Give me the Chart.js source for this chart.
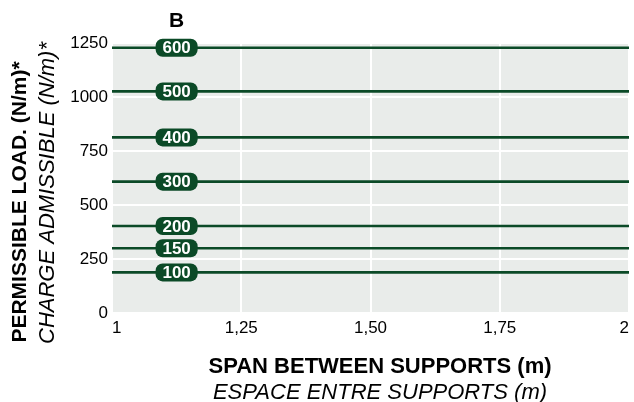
<!DOCTYPE html>
<html>
<head>
<meta charset="utf-8">
<script src="https://cdn.jsdelivr.net/npm/chart.js@4.4.1/dist/chart.umd.min.js"></script>
<style>
  html, body { margin: 0; padding: 0; background: #ffffff; }
  #wrap { position: relative; width: 634px; height: 402px; }
</style>
</head>
<body>
<div id="wrap"><canvas id="chart" width="634" height="402"></canvas></div>
<script>
// Shelf models and their permissible distributed load (N/m)
const models = ['100', '150', '200', '300', '400', '500', '600'];
const loads = [188, 300, 403, 608, 813, 1026, 1228];

// Span range (m) and tick values
const spanRange = [1, 2];
const spanTicks = [1, 1.25, 1.5, 1.75, 2];
const loadTicks = [0, 250, 500, 750, 1000, 1250];

// Where the model badges sit along the span axis
const badgeSpan = 1.125;

const FONT = '"Liberation Sans", Arial, Helvetica, sans-serif';
const GREEN = '#0b4a27';

const datasets = models.map((m, i) => ({
  label: m,
  data: spanRange.map(x => ({ x: x, y: loads[i] })),
  borderColor: GREEN,
  borderWidth: 2.6,
  pointRadius: 0,
  fill: false
}));

function roundRect(ctx, x, y, w, h, r) {
  ctx.beginPath();
  ctx.moveTo(x + r, y);
  ctx.lineTo(x + w - r, y);
  ctx.arcTo(x + w, y, x + w, y + r, r);
  ctx.lineTo(x + w, y + h - r);
  ctx.arcTo(x + w, y + h, x + w - r, y + h, r);
  ctx.lineTo(x + r, y + h);
  ctx.arcTo(x, y + h, x, y + h - r, r);
  ctx.lineTo(x, y + r);
  ctx.arcTo(x, y, x + r, y, r);
  ctx.closePath();
}

const decor = {
  id: 'decor',
  beforeDraw(chart) {
    const { ctx, chartArea: a } = chart;
    ctx.save();
    ctx.fillStyle = '#e9ecea';
    ctx.fillRect(a.left, a.top, a.right - a.left, a.bottom - a.top);
    ctx.restore();
  },
  afterDatasetsDraw(chart) {
    const { ctx, scales } = chart;
    const cx = scales.x.getPixelForValue(badgeSpan);
    ctx.save();
    models.forEach((m, i) => {
      const cy = scales.y.getPixelForValue(loads[i]);
      const w = 42, h = 18;
      ctx.fillStyle = GREEN;
      roundRect(ctx, cx - w / 2, cy - h / 2, w, h, 7);
      ctx.fill();
      ctx.fillStyle = '#ffffff';
      ctx.font = 'bold 17px ' + FONT;
      ctx.textAlign = 'center';
      ctx.textBaseline = 'middle';
      ctx.fillText(m, cx, cy + 1);
    });
    ctx.restore();
  },
  afterDraw(chart) {
    const { ctx, scales } = chart;
    const cx = scales.x.getPixelForValue(badgeSpan);
    ctx.save();
    ctx.fillStyle = '#000000';
    ctx.textAlign = 'center';
    ctx.textBaseline = 'middle';
    // Panel letter
    ctx.font = 'bold 21px ' + FONT;
    ctx.fillText('B', cx, 21);
    // Horizontal axis title (English / French)
    ctx.font = 'bold 22px ' + FONT;
    ctx.fillText('SPAN BETWEEN SUPPORTS (m)', 380, 367);
    ctx.font = 'italic 22px ' + FONT;
    ctx.fillText('ESPACE ENTRE SUPPORTS (m)', 380, 393);
    // Vertical axis title (English / French)
    ctx.save();
    ctx.translate(20, 202);
    ctx.rotate(-Math.PI / 2);
    ctx.font = 'bold 21px ' + FONT;
    ctx.fillText('PERMISSIBLE LOAD. (N/m)*', 0, 0);
    ctx.restore();
    ctx.save();
    ctx.translate(48, 193);
    ctx.rotate(-Math.PI / 2);
    ctx.font = 'italic 22px ' + FONT;
    ctx.fillText('CHARGE ADMISSIBLE (N/m)*', 0, 0);
    ctx.restore();
    ctx.restore();
  }
};

new Chart(document.getElementById('chart'), {
  type: 'line',
  data: { datasets: datasets },
  options: {
    responsive: false,
    animation: false,
    layout: { padding: { top: 43, right: 4, left: 0, bottom: 0 } },
    plugins: { legend: { display: false }, tooltip: { enabled: false } },
    scales: {
      x: {
        type: 'linear',
        min: spanRange[0],
        max: spanRange[1],
        afterBuildTicks: s => { s.ticks = spanTicks.map(v => ({ value: v })); },
        afterFit: s => { s.height = 89; },
        grid: { color: '#ffffff', lineWidth: 2, drawTicks: false },
        border: { display: false },
        ticks: {
          align: 'inner',
          padding: 5,
          color: '#000000',
          font: { family: FONT, size: 17 },
          callback: v => (v === 1 || v === 2) ? String(v) : v.toFixed(2).replace('.', ',')
        }
      },
      y: {
        type: 'linear',
        min: 0,
        max: 1250,
        afterBuildTicks: s => { s.ticks = loadTicks.map(v => ({ value: v })); },
        afterFit: s => { s.width = 112; },
        grid: { color: '#ffffff', lineWidth: 2, drawTicks: false },
        border: { display: false },
        ticks: {
          padding: 4,
          color: '#000000',
          font: { family: FONT, size: 17 },
          callback: v => String(v)
        }
      }
    }
  },
  plugins: [decor]
});
</script>
</body>
</html>
